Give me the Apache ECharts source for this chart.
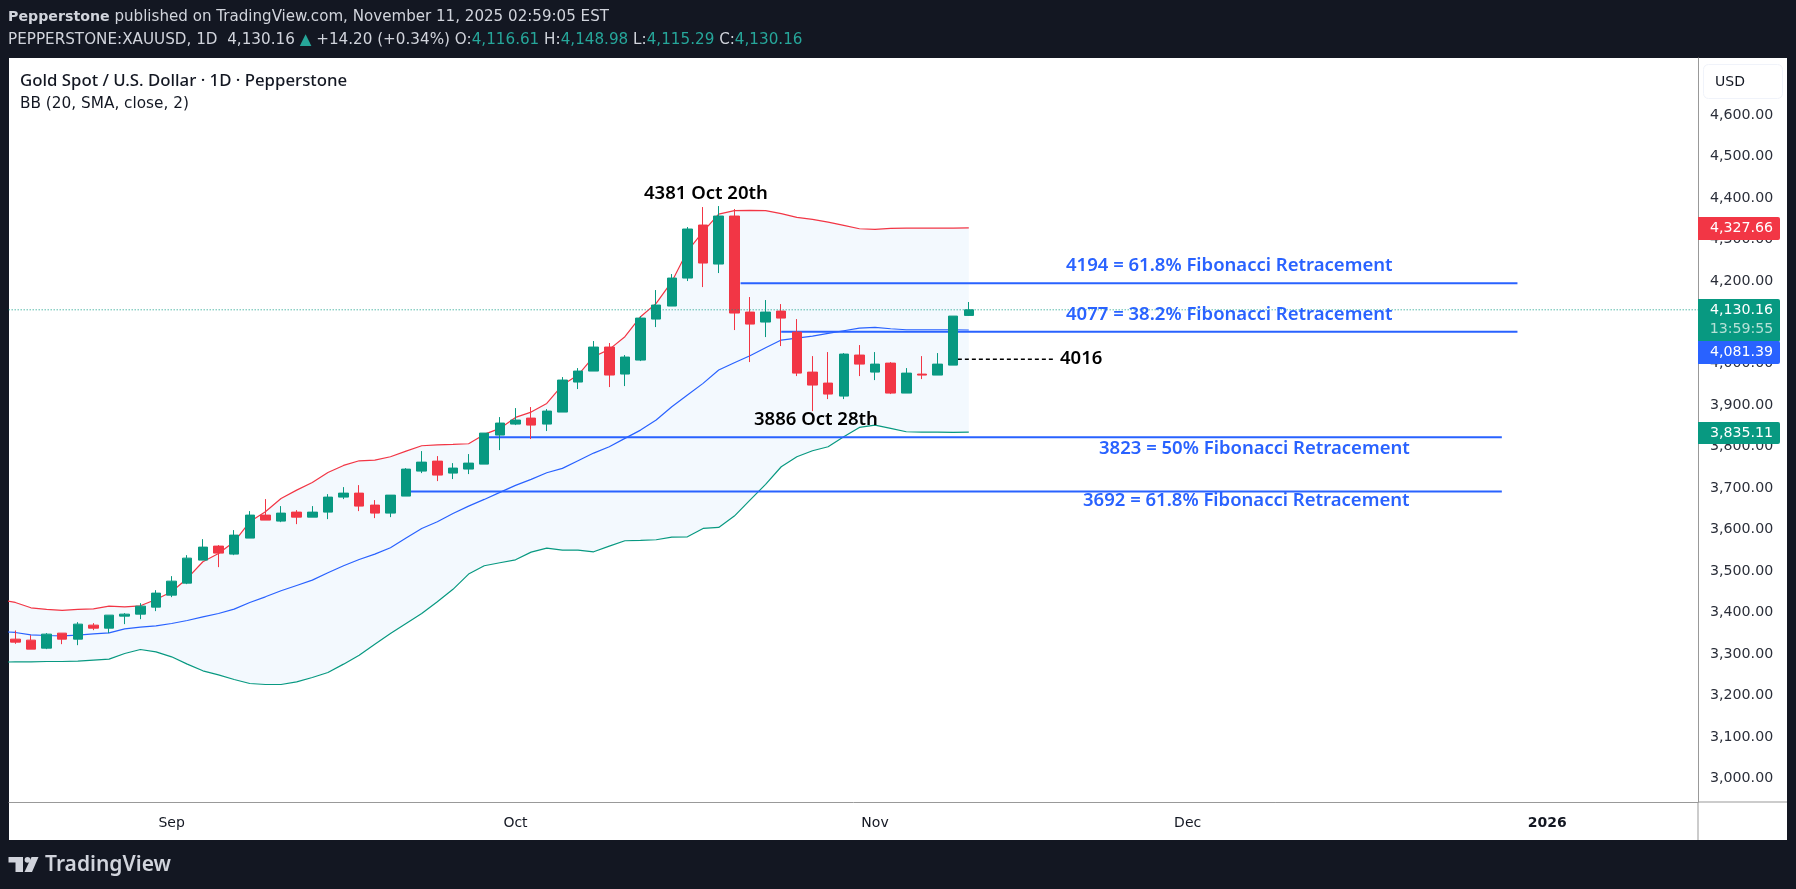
<!DOCTYPE html>
<html>
<head>
<meta charset="utf-8">
<title>XAUUSD 1D</title>
<script src="https://cdn.jsdelivr.net/npm/echarts@6/dist/echarts.min.js"></script>
<style>
  html, body {margin: 0; padding: 0; background: #131722;}
  #chart {width: 1796px; height: 889px;}
</style>
</head>
<body>
<div id="chart"></div>
<script>
  // trading day candles, index 0 is Aug 18
  var opens = [
    3335.8, 3333.4, 3314.1, 3350.3, 3335.8, 3369.6, 3362.3, 3391.3, 3396.1, 3413,
    3441.9, 3470.9, 3526.4, 3560.2, 3540.9, 3579.5, 3635, 3620.5, 3642.2, 3630.1,
    3642.2, 3678.4, 3688, 3659.1, 3639.8, 3680.8, 3741.1, 3765.2, 3736.3, 3746,
    3758, 3828, 3854.5, 3869, 3854.5, 3883.5, 3955.9, 3982.4, 4040.3, 3975.2,
    4008.9, 4107.8, 4139.2, 4206.7, 4334.6, 4240.5, 4356.3, 4124.7, 4100.6, 4127.1,
    4076.4, 3979.9, 3953.4, 3922, 4021, 3979.9, 4001.6, 3929.3, 3975.1, 3972.7,
    3996.8, 4116.61
  ];
  var closes = [
    3328.6, 3311.7, 3347.9, 3335.8, 3372, 3362.3, 3393.7, 3396.1, 3415.4, 3446.8,
    3475.7, 3531.2, 3557.8, 3543.3, 3586.7, 3635, 3622.9, 3639.8, 3630.1, 3642.2,
    3678.4, 3688, 3656.7, 3639.8, 3683.2, 3745.9, 3762.8, 3731.5, 3748.4, 3760.4,
    3832.8, 3857, 3864.2, 3852.1, 3885.9, 3960.7, 3982.4, 4040.3, 3972.8, 4016.2,
    4110.2, 4141.6, 4206.7, 4325, 4242.9, 4356.3, 4122.3, 4095.7, 4124.7, 4110.2,
    3977.5, 3948.6, 3926.9, 4023.4, 3999.2, 3999.2, 3929.3, 3977.5, 3972.7, 3999.2,
    4115, 4130.16
  ];
  var lows = [
    3324.5, 3311.7, 3311.7, 3323.7, 3321.3, 3357.5, 3350.3, 3372, 3384, 3403.4,
    3437.1, 3468.5, 3526.4, 3509.5, 3538.4, 3579.5, 3622.9, 3618, 3613.2, 3630.1,
    3625.3, 3673.6, 3644.6, 3627.7, 3630.1, 3680.8, 3736.3, 3717, 3721.9, 3733.9,
    3758, 3791.8, 3852.1, 3818.4, 3837.7, 3883.5, 3939, 3982.4, 3943.8, 3946.2,
    4006.5, 4088.5, 4139.2, 4199.5, 4185, 4218.8, 4081.3, 4004.1, 4064.4, 4042.7,
    3970.3, 3885.8, 3914.8, 3914.8, 3970.3, 3960.6, 3926.9, 3929.3, 3963, 3972.7,
    3996.8, 4115.29
  ];
  var highs = [
    3356.7, 3345.4, 3350.3, 3350.3, 3376.8, 3374.4, 3393.7, 3398.5, 3422.6, 3454,
    3487.8, 3538.4, 3577, 3562.6, 3598.8, 3644.6, 3673.6, 3656.7, 3647, 3656.7,
    3685.6, 3702.5, 3707.3, 3671.2, 3683.2, 3748.3, 3789.4, 3777.3, 3760.4, 3782.2,
    3832.8, 3871.4, 3893.1, 3895.6, 3890.7, 3967.9, 3989.6, 4054.8, 4050, 4021,
    4115, 4177.8, 4216.4, 4329.8, 4378, 4380.4, 4373.2, 4160.9, 4153.7, 4144,
    4107.8, 4018.5, 4028.2, 4025.8, 4045.1, 4028.2, 4004, 3989.6, 4018.5, 4025.8,
    4115, 4148.98
  ];

  // bollinger bands, first value is one day before the first candle
  var upperBand = [
    3430.7, 3424.3, 3411.4, 3407.4, 3405, 3407.4, 3409, 3415.4, 3413.8, 3416.2, 3431.5,
    3450, 3482.2, 3522.4, 3542.5, 3570.6, 3618.9, 3643, 3675.2, 3695.3, 3713.8,
    3737.9, 3754.8, 3766, 3767.6, 3775.7, 3789.4, 3802.2, 3804.6, 3805.4, 3807.1,
    3829.6, 3844.1, 3870.6, 3883.5, 3904.4, 3948.6, 3972.8, 4017, 4034.7, 4065.2,
    4113.5, 4145.6, 4197.9, 4271.9, 4318.5, 4361.1, 4369.2, 4370, 4369.2, 4362,
    4353, 4348.3, 4341.8, 4333.8, 4325.7, 4324.1, 4326.5, 4327, 4327.3, 4327.3, 4327.4, 4327.66
  ];
  var basisLine = [
    3354.3, 3351.9, 3346.2, 3344.6, 3343.8, 3345.4, 3348.7, 3351.1, 3360.7, 3364.7, 3368,
    3373.6, 3380.8, 3389.7, 3397.7, 3408.2, 3424.3, 3437.9, 3452.4, 3465.3, 3478.1,
    3495.8, 3512.7, 3528, 3540.9, 3556.1, 3580, 3602.8, 3618.9, 3639, 3656.7,
    3672.8, 3689.7, 3706.6, 3721.1, 3737.1, 3747.6, 3766, 3784.6, 3799.9, 3820,
    3840, 3864.2, 3896.4, 3924.5, 3952.7, 3984.8, 4002.5, 4019.4, 4038.7, 4057.2,
    4062, 4066.8, 4073.2, 4079.7, 4086.1, 4087.7, 4084.5, 4082.1, 4082.1, 4082.1, 4082.1, 4081.39
  ];
  var lowerBand = [
    3280.3, 3281.1, 3281.1, 3281.9, 3281.9, 3282.7, 3285.1, 3287.5, 3301.2, 3310.9, 3305.2,
    3293.2, 3275.5, 3259.4, 3249.7, 3238.5, 3228.8, 3226.4, 3226.4, 3232.9, 3243.3,
    3255.4, 3275.5, 3297.2, 3323.7, 3349.5, 3373.6, 3397.7, 3425.9, 3456, 3492.7,
    3512.8, 3520, 3527.2, 3545.7, 3555.4, 3550.6, 3550.6, 3546.5, 3560.2, 3573.1,
    3573.9, 3575.5, 3581.9, 3582.7, 3602.8, 3605.2, 3632.6, 3671.2, 3709, 3751.6,
    3775.7, 3790.2, 3799.9, 3824, 3846.5, 3852, 3844, 3836, 3835.2, 3835, 3834.4, 3835.11
  ];

  var fibLevels = [4194, 4077, 3823, 3692];
  var fibFrom = [46.4, 49, 30, 25];
  var fibTo = [96.1, 96.1, 95.1, 95.1];
  var fibLabels = [
    '4194 = 61.8% Fibonacci Retracement',
    '4077 = 38.2% Fibonacci Retracement',
    '3823 = 50% Fibonacci Retracement',
    '3692 = 61.8% Fibonacci Retracement'
  ];
  var dashLevel = 4011;
  var dashFrom = 60.3;
  var dashTo = 66.4;
  var lastPrice = 4130.16;

  var priceTicks = [3000, 3100, 3200, 3300, 3400, 3500, 3600, 3700, 3800, 3900, 4000, 4100, 4200, 4300, 4400, 4500, 4600];
  var monthTicks = [10, 32, 55, 75, 98];
  var monthLabels = ['Sep', 'Oct', 'Nov', 'Dec', '2026'];

  var UP = '#089981';
  var DOWN = '#F23645';
  var BLUE = '#2962FF';
  var FRAME = '#131722';
  var FONT = '"Noto Sans", sans-serif';
  var UI_FONT = '"DejaVu Sans", sans-serif';

  function money(v) {
    return v.toLocaleString('en-US', {minimumFractionDigits: 2, maximumFractionDigits: 2});
  }
  function bandPoints(values) {
    return values.map(function (v, k) { return [k - 1, v]; });
  }
  function flatLine(name, level, from, to, color, width, type, z) {
    return {
      name: name,
      type: 'line',
      data: [[from, level], [to, level]],
      symbol: 'none',
      silent: true,
      z: z,
      lineStyle: {color: color, width: width, type: type}
    };
  }
  function bandLine(name, values, color) {
    return {
      name: name,
      type: 'line',
      data: bandPoints(values),
      symbol: 'none',
      silent: true,
      z: 3,
      lineStyle: {color: color, width: 1.2}
    };
  }
  // band fill is one polygon, drawn once from the first row
  function renderBand(params, api) {
    if (params.dataIndex !== 0) {
      return null;
    }
    var pts = [];
    upperBand.forEach(function (v, k) {
      pts.push(api.coord([k - 1, v]));
    });
    for (var k = lowerBand.length - 1; k >= 0; k--) {
      pts.push(api.coord([k - 1, lowerBand[k]]));
    }
    return {
      type: 'polygon',
      shape: {points: pts},
      style: {fill: '#F3F9FE'},
      silent: true
    };
  }
  function text(left, cy, str, size, color, weight, family) {
    return {
      type: 'text',
      z: 50,
      x: left,
      y: cy,
      style: {text: str, fill: color, font: (weight || 400) + ' ' + size + 'px ' + (family || FONT), verticalAlign: 'middle'}
    };
  }
  function priceTag(top, bottom, color) {
    return {
      type: 'rect',
      z: 40,
      shape: {x: 1698, y: top, width: 82, height: bottom - top, r: [0, 2, 2, 0]},
      style: {fill: color}
    };
  }
  function tagText(cy, str, color) {
    return {
      type: 'text',
      z: 50,
      x: 1741.5,
      y: cy,
      style: {text: str, fill: color, font: '400 14.2px ' + UI_FONT, align: 'center', verticalAlign: 'middle'}
    };
  }

  var series = [
    {
      name: 'bandFill',
      type: 'custom',
      clip: true,
      silent: true,
      z: 1,
      encode: {x: 0, y: 1},
      data: bandPoints(upperBand),
      renderItem: renderBand
    },
    bandLine('upper', upperBand, DOWN),
    bandLine('basis', basisLine, BLUE),
    bandLine('lower', lowerBand, UP),
    {
      name: 'XAUUSD',
      type: 'candlestick',
      z: 6,
      barWidth: 10,
      silent: true,
      encode: {x: 0, y: [1, 2, 3, 4]},
      data: opens.map(function (o, i) { return [i, o, closes[i], lows[i], highs[i]]; }),
      itemStyle: {color: UP, color0: DOWN, borderColor: UP, borderColor0: DOWN, borderWidth: 1}
    },
    flatLine('last', lastPrice, -1, 108, UP, 1, [1, 2], 7),
    flatLine('level', dashLevel, dashFrom, dashTo, '#000000', 1.6, [4, 3], 5)
  ];
  fibLevels.forEach(function (level, k) {
    series.push(flatLine('fib' + k, level, fibFrom[k], fibTo[k], BLUE, 2, 'solid', 4));
  });

  var graphics = [
    {type: 'rect', z: -10, shape: {x: 9, y: 58, width: 1778, height: 782}, style: {fill: '#FFFFFF'}},
    {type: 'line', z: 30, shape: {x1: 1698, y1: 802, x2: 1787, y2: 802}, style: {stroke: '#999999', lineWidth: 1}},
    {type: 'line', z: 30, shape: {x1: 1698, y1: 802, x2: 1698, y2: 840}, style: {stroke: '#999999', lineWidth: 1}},
    {
      type: 'text',
      z: 50,
      x: 8,
      y: 17,
      style: {
        text: '{b|Pepperstone} published on TradingView.com, November 11, 2025 02:59:05 EST',
        fill: '#D1D4DC',
        font: '400 15.1px ' + UI_FONT,
        verticalAlign: 'middle',
        rich: {b: {fill: '#D1D4DC', font: '700 14.2px ' + UI_FONT}}
      }
    },
    {
      type: 'text',
      z: 50,
      x: 8,
      y: 40,
      style: {
        text: 'PEPPERSTONE:XAUUSD, 1D  4,130.16 {g|▲} +14.20 (+0.34%) O:{g|4,116.61} H:{g|4,148.98} L:{g|4,115.29} C:{g|4,130.16}',
        fill: '#D1D4DC',
        font: '400 15.2px ' + UI_FONT,
        verticalAlign: 'middle',
        rich: {g: {fill: '#26A69A', font: '400 15.2px ' + UI_FONT}}
      }
    },
    text(20, 81, 'Gold Spot / U.S. Dollar · 1D · Pepperstone', 16.8, FRAME, 500),
    text(20, 104, 'BB (20, SMA, close, 2)', 15.3, FRAME, 400, UI_FONT),
    text(644, 194, '4381 Oct 20th', 18.5, '#000000', 600),
    text(754, 420, '3886 Oct 28th', 18.5, '#000000', 600),
    text(1060, 359, '4016', 18.5, '#000000', 600),
    text(1066, 266, fibLabels[0], 18.5, BLUE, 600),
    text(1066, 315, fibLabels[1], 18.5, BLUE, 600),
    text(1099, 449, fibLabels[2], 18.5, BLUE, 600),
    text(1083, 501, fibLabels[3], 18.5, BLUE, 600),
    {
      type: 'rect',
      z: 30,
      shape: {x: 1703.5, y: 64.5, width: 79, height: 34, r: 5},
      style: {fill: '#FFFFFF', stroke: '#F0F3FA', lineWidth: 1}
    },
    text(1715, 82, 'USD', 14, FRAME, 400, UI_FONT),
    priceTag(217, 240, DOWN),
    tagText(228.5, money(4327.66), '#FFFFFF'),
    priceTag(299, 342, UP),
    tagText(310, money(lastPrice), '#FFFFFF'),
    tagText(329, '13:59:55', '#B5E0D6'),
    priceTag(341, 364, BLUE),
    tagText(352.5, money(4081.39), '#FFFFFF'),
    priceTag(422, 444, UP),
    tagText(433, money(3835.11), '#FFFFFF'),
    // logo
    {type: 'polygon', z: 50, shape: {points: [[8.5, 857], [23, 857], [23, 872], [15.5, 872], [15.5, 862.5], [8.5, 862.5]]}, style: {fill: '#D1D4DC'}},
    {type: 'circle', z: 50, shape: {cx: 27.5, cy: 859.8, r: 2.9}, style: {fill: '#D1D4DC'}},
    {type: 'polygon', z: 50, shape: {points: [[31.5, 857], [38.5, 857], [32, 872], [24.5, 872]]}, style: {fill: '#D1D4DC'}},
    text(45, 865, 'TradingView', 21, '#D1D4DC', 600)
  ];

  var chart = echarts.init(document.getElementById('chart'));
  chart.setOption({
    animation: false,
    backgroundColor: FRAME,
    tooltip: {show: false},
    legend: {show: false},
    grid: {left: 9, right: 98, top: 58, bottom: 87, containLabel: false},
    xAxis: {
      type: 'value',
      // 15.63px per trading day, first candle sits at x=15.3
      min: -0.403,
      max: 107.65,
      splitLine: {show: false},
      axisTick: {show: false},
      axisLine: {show: true, onZero: false, lineStyle: {color: '#999999', width: 1}},
      axisLabel: {
        show: true,
        customValues: monthTicks,
        margin: 14,
        color: FRAME,
        fontFamily: UI_FONT,
        fontSize: 14,
        formatter: function (v) {
          var label = monthLabels[monthTicks.indexOf(v)];
          return label === '2026' ? '{y|' + label + '}' : label;
        },
        rich: {y: {fontWeight: 700, fontSize: 14, fontFamily: UI_FONT, color: FRAME}}
      }
    },
    yAxis: {
      type: 'value',
      position: 'right',
      min: 2943,
      max: 4737.5,
      scale: true,
      splitLine: {show: false},
      axisTick: {show: false},
      axisLine: {show: true, onZero: false, lineStyle: {color: '#999999', width: 1}},
      axisLabel: {
        show: true,
        customValues: priceTicks,
        margin: 12,
        color: '#2A2E39',
        fontFamily: UI_FONT,
        fontSize: 14.2,
        formatter: function (v) { return money(v); }
      }
    },
    series: series,
    graphic: {elements: graphics}
  });
</script>
</body>
</html>
